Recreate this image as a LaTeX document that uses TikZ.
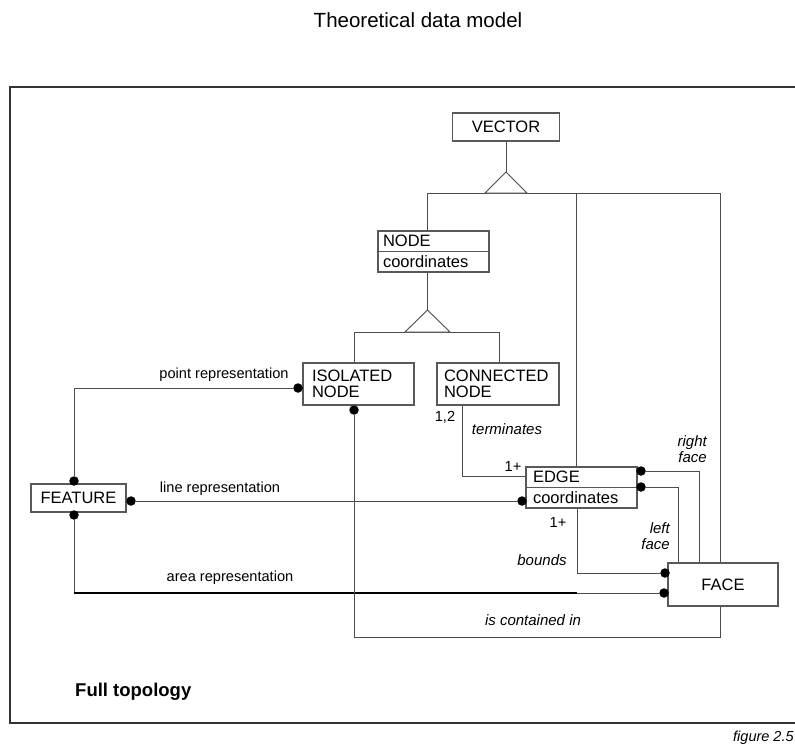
\documentclass[tikz,border=0pt]{standalone}
\usepackage{fontspec}
\setmainfont{Liberation Sans}
\begin{document}
\begin{tikzpicture}[x=1pt,y=-1pt,
  box/.style={draw=black!65, line width=1.1pt, fill=white, inner sep=0pt,
    font=\fontsize{16.5}{16}\selectfont},
  conn/.style={draw=black!70, line width=0.9pt},
  arealine/.style={draw=black, line width=1.8pt},
  gen/.style={draw=black!70, line width=0.9pt, fill=white},
  dot/.style={circle, fill=black, inner sep=0pt, minimum size=9.5pt},
  lbl/.style={inner sep=0pt, text=black, font=\fontsize{14.6}{15}\selectfont},
  ilbl/.style={inner sep=0pt, text=black, font=\fontsize{15}{15.5}\selectfont\itshape},
  frame/.style={draw=black!80, line width=2pt}]

\useasboundingbox (0,0) rectangle (795,752);
\clip (0,0) rectangle (795,752);

% heading, frame and captions
\node[font=\fontsize{20.5}{22}\selectfont] (title) at (418,20) {Theoretical data model};
\draw[frame] (10,87) rectangle (800,723);
\node[font=\bfseries\fontsize{18.5}{20}\selectfont, anchor=west, inner sep=0pt] (subtitle) at (75,692) {Full topology};
\node[font=\itshape\fontsize{14.5}{15}\selectfont, anchor=west, inner sep=0pt] (figno) at (733,738) {figure 2.5};

% entity boxes
\node[box, minimum width=107pt, minimum height=28pt] (vector) at (506,127) {VECTOR};
\node[box, minimum width=111pt, minimum height=41pt, align=left, text width=101pt,
  font=\fontsize{16.5}{20.5}\selectfont] (nodebox) at (433.5,251.5) {NODE\\coordinates};
\draw[draw=black!65, line width=1.1pt] (nodebox.west) -- (nodebox.east);
\node[box, minimum width=111pt, minimum height=42pt, align=left, text width=93pt] (isolated) at (358.5,384) {ISOLATED\\NODE};
\node[box, minimum width=122pt, minimum height=42pt, align=left, text width=108pt] (connected) at (498,384) {CONNECTED\\NODE};
\node[box, minimum width=111pt, minimum height=41pt, align=left, text width=97pt,
  font=\fontsize{16.5}{20.5}\selectfont] (edge) at (581.5,487.5) {EDGE\\coordinates};
\draw[draw=black!65, line width=1.1pt] (edge.west) -- (edge.east);
\node[box, minimum width=95pt, minimum height=28pt] (feature) at (78.5,498) {FEATURE};
\node[box, minimum width=110pt, minimum height=43pt] (face) at (723,584.5) {FACE};

% generalisation: VECTOR
\coordinate (t1) at (506,172);
\draw[conn] (vector.south) -- (t1);
\coordinate (b1L) at (427,193);
\coordinate (b1M) at (576,193);
\coordinate (b1R) at (720,193);
\draw[conn] (b1L) -- (b1R);
\draw[gen] (t1) -- (527,193) -- (485,193) -- cycle;
\draw[conn] (b1L) -- (b1L |- nodebox.north);
\draw[conn] (b1M) -- (b1M |- edge.north);
\draw[conn] (b1R) -- (b1R |- face.north);

% generalisation: NODE
\coordinate (t2) at (427.5,310);
\draw[conn] (t2 |- nodebox.south) -- (t2);
\coordinate (b2L) at (354,332);
\coordinate (b2R) at (499,332);
\draw[conn] (b2L) -- (b2R);
\draw[gen] (t2) -- (450,332) -- (405,332) -- cycle;
\draw[conn] (b2L) -- (b2L |- isolated.north);
\draw[conn] (b2R) -- (b2R |- connected.north);

% relationship ends
\node[dot] (dPointF) at (74,481) {};
\node[dot] (dPointI) at (298,388) {};
\node[dot] (dLineF) at (131,501) {};
\node[dot] (dLineE) at (522,501) {};
\node[dot] (dAreaF) at (74,515) {};
\node[dot] (dAreaA) at (664,593) {};
\node[dot] (dBoundsA) at (665,573) {};
\node[dot] (dRight) at (641,471) {};
\node[dot] (dLeft) at (641,487) {};
\node[dot] (dContI) at (354,410) {};

% relationships
\draw[conn] (dPointF) |- (dPointI);
\draw[conn] (dLineF) -- (dLineE);
\coordinate (areaC) at (74,593);
\coordinate (areaK) at (577,593);
\draw[conn] (dAreaF) -- (areaC);
\draw[arealine] (areaC) -- (areaK);
\draw[conn] (areaK) -- (dAreaA);
\coordinate (termC) at (462,476);
\draw[conn] (connected.south -| termC) -- (termC) -- (termC -| edge.west);
\coordinate (bndC) at (577,573);
\draw[conn] (bndC |- edge.south) -- (bndC) -- (dBoundsA);
\coordinate (rfC) at (699,471);
\draw[conn] (dRight) -- (rfC) -- (rfC |- face.north);
\coordinate (lfC) at (678,487);
\draw[conn] (dLeft) -- (lfC) -- (lfC |- face.north);
\coordinate (ctR) at (720,637);
\coordinate (ctL) at (354,637);
\draw[conn] (ctR |- face.south) -- (ctR) -- (ctL) -- (dContI);

% labels
\node[lbl] (lPoint) at (224,375) {point representation};
\node[lbl] (lLine) at (220,489) {line representation};
\node[lbl] (lArea) at (230,578) {area representation};
\node[ilbl] (lTerm) at (507,429) {terminates};
\node[lbl] (l12) at (445,417) {1,2};
\node[lbl] (l1a) at (513,466) {1+};
\node[lbl] (l1b) at (558,522) {1+};
\node[ilbl] (lBounds) at (542,560) {bounds};
\node[ilbl, align=right, anchor=east] (lLeft) at (670,536) {left\\face};
\node[ilbl, align=right, anchor=east] (lRight) at (707,449) {right\\face};
\node[ilbl] (lCont) at (533,620) {is contained in};
\end{tikzpicture}
\end{document}
